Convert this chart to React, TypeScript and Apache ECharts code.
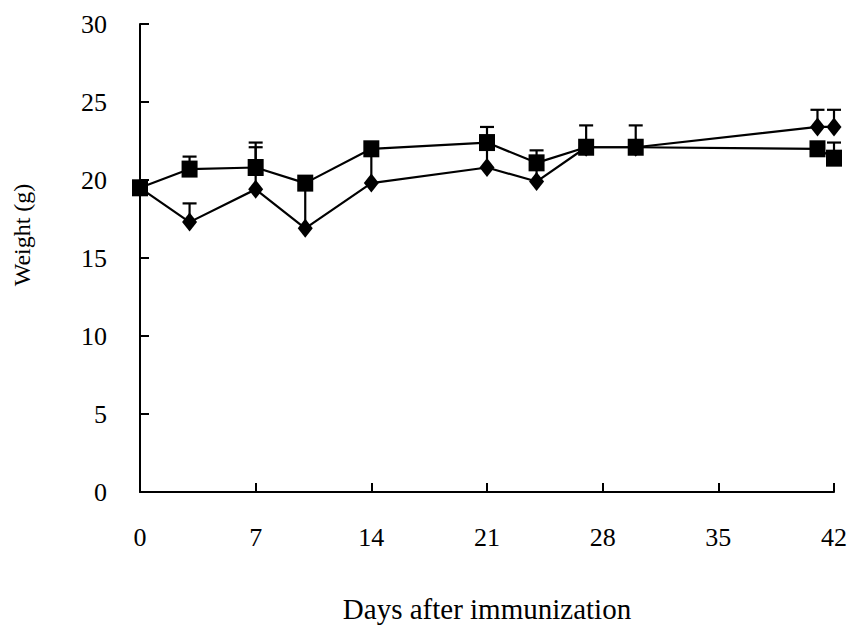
import React, { useEffect, useRef } from "react";
import * as echarts from "echarts";

const days = [0, 3, 7, 10, 14, 21, 24, 27, 30, 41, 42];
const squareWeight = [19.5, 20.7, 20.8, 19.8, 22.0, 22.4, 21.1, 22.1, 22.1, 22.0, 21.4];
const squareError = [0, 0.8, 1.3, 0, 0, 1.0, 0.8, 1.4, 1.4, 0, 1.0];
const diamondWeight = [19.5, 17.3, 19.4, 16.9, 19.8, 20.8, 19.9, 22.1, 22.1, 23.4, 23.4];
const diamondError = [0, 1.2, 3.0, 2.8, 2.2, 1.5, 1.1, 0, 0, 1.1, 1.1];

const xTitle = "Days after immunization";
const yTitle = "Weight (g)";
const FONT = "Liberation Serif";

function errorSeries(values: number[], errors: number[]) {
  return {
    type: "custom",
    z: 1,
    encode: { x: 0, y: 1 },
    data: days.map((d, i) => [d, values[i], errors[i]]),
    renderItem: (params: any, api: any) => {
      const x = api.value(0);
      const y = api.value(1);
      const e = api.value(2);
      if (!e) return null;
      const p0 = api.coord([x, y]);
      const p1 = api.coord([x, y + e]);
      return {
        type: "group",
        children: [
          {
            type: "line",
            shape: { x1: p0[0], y1: p0[1], x2: p1[0], y2: p1[1] },
            style: { stroke: "#000", lineWidth: 2.2 },
          },
          {
            type: "line",
            shape: { x1: p1[0] - 7, y1: p1[1], x2: p1[0] + 7, y2: p1[1] },
            style: { stroke: "#000", lineWidth: 2.2 },
          },
        ],
      };
    },
  };
}

export default function App() {
  const ref = useRef<HTMLDivElement>(null);
  useEffect(() => {
    if (!ref.current) return;
    const chart = echarts.init(ref.current, undefined, { renderer: "svg" });
    const axisCommon = {
      axisLine: { show: true, lineStyle: { color: "#000", width: 2 } },
      axisTick: { show: true, inside: true, length: 9, lineStyle: { color: "#000", width: 2 } },
      splitLine: { show: false },
    };
    chart.setOption({
      animation: false,
      backgroundColor: "#fff",
      grid: { left: 140, right: 20, top: 24, bottom: 135, containLabel: false, outerBoundsMode: "none" },
      xAxis: {
        type: "value",
        min: 0,
        max: 42,
        interval: 7,
        ...axisCommon,
        axisLabel: { color: "#000", fontFamily: FONT, fontSize: 26, margin: 32 },
        name: xTitle,
        nameLocation: "middle",
        nameGap: 102,
        nameTextStyle: { color: "#000", fontFamily: FONT, fontSize: 29 },
      },
      yAxis: {
        type: "value",
        min: 0,
        max: 30,
        interval: 5,
        ...axisCommon,
        axisLabel: { color: "#000", fontFamily: FONT, fontSize: 26, margin: 33 },
      },
      graphic: [
        {
          type: "text",
          x: 22,
          y: 235,
          rotation: Math.PI / 2,
          style: {
            text: yTitle,
            fill: "#000",
            font: `24px "${FONT}"`,
            align: "center",
            verticalAlign: "middle",
          },
        },
      ],
      series: [
        errorSeries(diamondWeight, diamondError),
        errorSeries(squareWeight, squareError),
        {
          type: "line",
          z: 2,
          clip: false,
          data: days.map((d, i) => [d, diamondWeight[i]]),
          symbol: "diamond",
          symbolSize: [15, 19],
          lineStyle: { color: "#000", width: 2.2 },
          itemStyle: { color: "#000" },
        },
        {
          type: "line",
          z: 3,
          clip: false,
          data: days.map((d, i) => [d, squareWeight[i]]),
          symbol: "rect",
          symbolSize: [16, 17],
          lineStyle: { color: "#000", width: 2.2 },
          itemStyle: { color: "#000" },
        },
      ],
    });
    return () => chart.dispose();
  }, []);
  return (
    <div
      ref={ref}
      style={{ position: "fixed", left: 0, top: 0, width: 854, height: 627, background: "#fff" }}
    />
  );
}
